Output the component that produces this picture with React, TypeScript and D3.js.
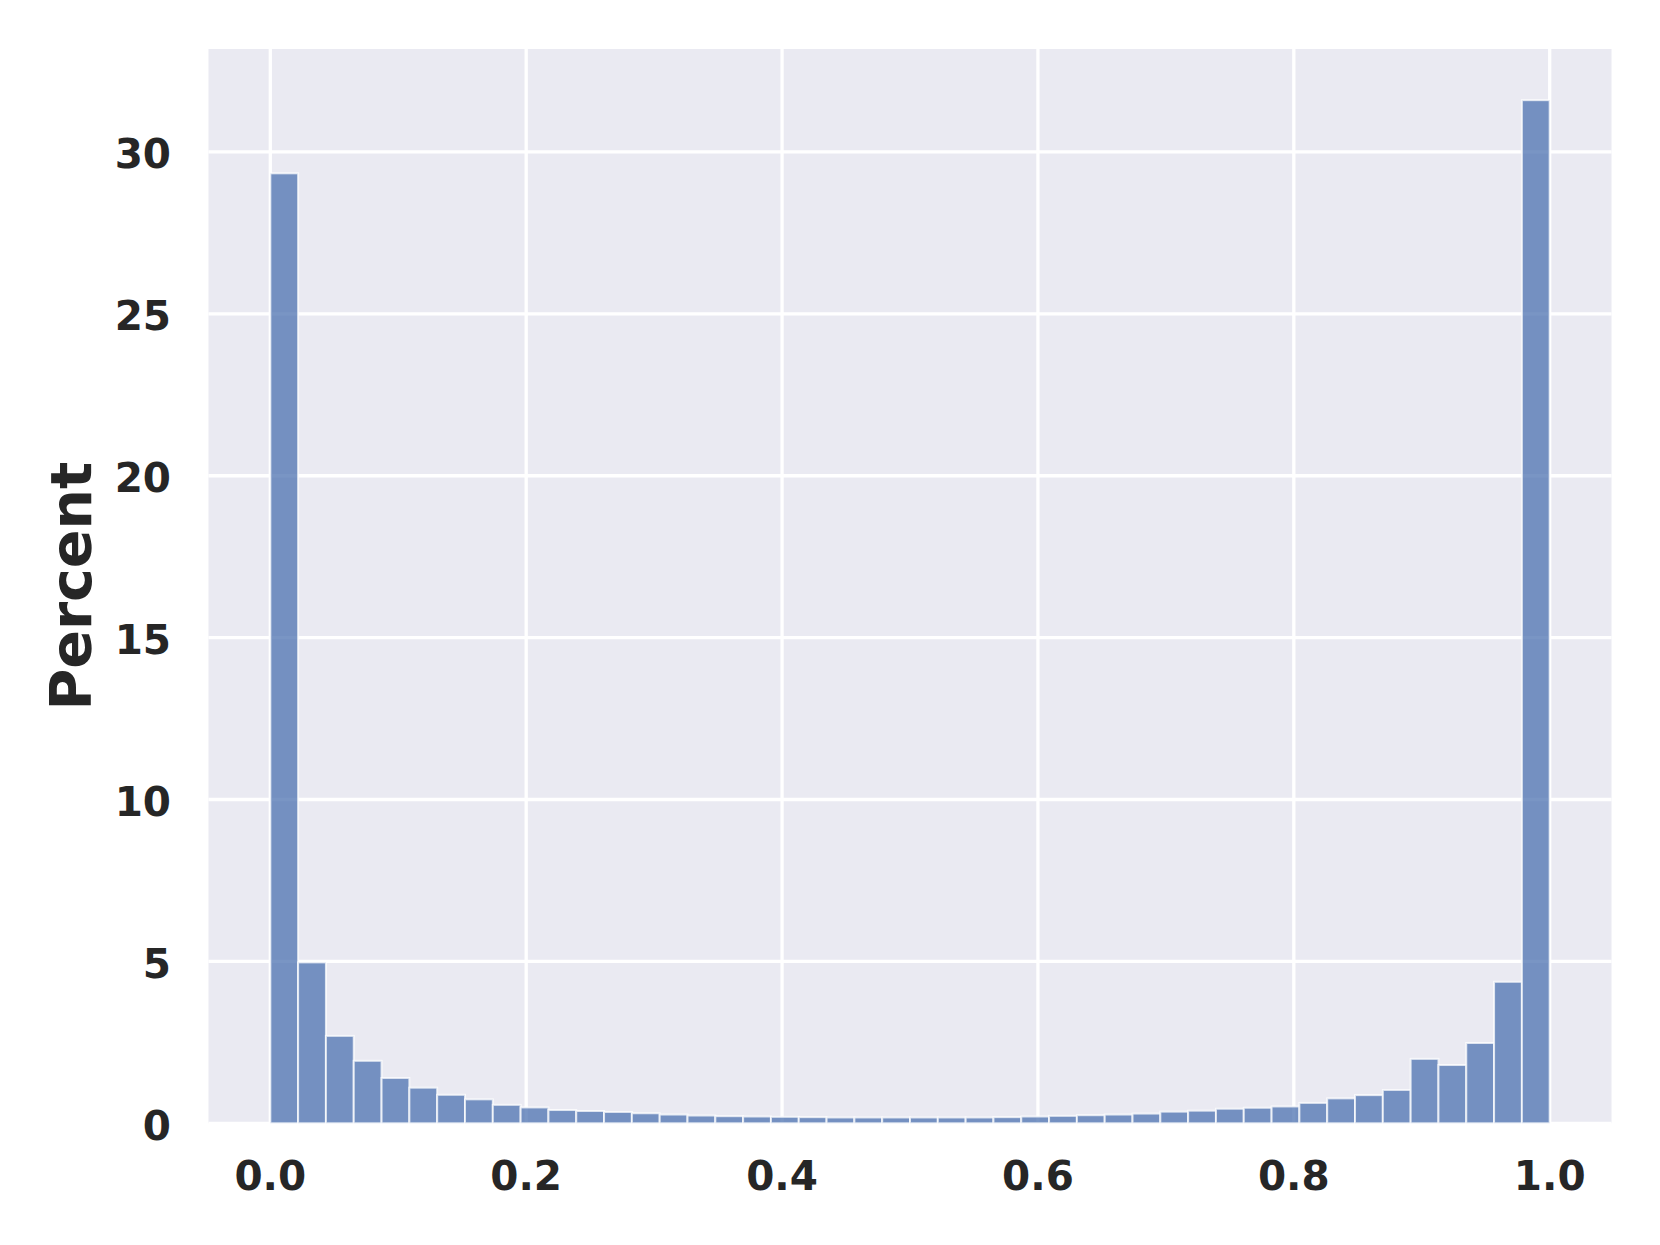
import { useEffect, useRef } from 'react';
import * as d3 from 'd3';

// histogram of 46 equal bins on [0, 1], values in percent
const binCount = 46;
const percents = [
  29.34, 4.97, 2.7, 1.93, 1.4, 1.1, 0.88, 0.74, 0.57, 0.49,
  0.41, 0.38, 0.35, 0.31, 0.27, 0.24, 0.22, 0.21, 0.2, 0.19,
  0.18, 0.18, 0.18, 0.18, 0.18, 0.18, 0.19, 0.21, 0.23, 0.25,
  0.27, 0.3, 0.36, 0.39, 0.45, 0.48, 0.52, 0.63, 0.77, 0.87,
  1.03, 1.99, 1.8, 2.48, 4.37, 31.6,
];
const xTicks = [0, 0.2, 0.4, 0.6, 0.8, 1.0];
const yTicks = [0, 5, 10, 15, 20, 25, 30];
const yLabel = 'Percent';

export default function App() {
  const svgRef = useRef<SVGSVGElement>(null);

  useEffect(() => {
    const W = 1660;
    const H = 1245;
    const plot = { left: 208.5, right: 1611.5, top: 49, bottom: 1123.3 };
    const font = '"DejaVu Sans", sans-serif';
    const ink = '#262626';

    const root = d3.select(svgRef.current);
    root.selectAll('*').remove();
    root.attr('width', W).attr('height', H);

    const x = d3.scaleLinear().domain([-0.0483, 1.0483]).range([plot.left, plot.right]);
    const yMax = d3.max(percents)! * 1.05;
    const y = d3.scaleLinear().domain([0, yMax]).range([plot.bottom, plot.top]);

    // background
    root.append('rect')
      .attr('x', plot.left)
      .attr('y', plot.top)
      .attr('width', plot.right - plot.left)
      .attr('height', plot.bottom - plot.top)
      .attr('fill', '#eaeaf2');

    // grid
    const grid = root.append('g').attr('stroke', '#ffffff').attr('stroke-width', 3.3);
    grid.selectAll('line.gx')
      .data(xTicks)
      .enter()
      .append('line')
      .attr('x1', d => x(d))
      .attr('x2', d => x(d))
      .attr('y1', plot.top)
      .attr('y2', plot.bottom);
    grid.selectAll('line.gy')
      .data(yTicks)
      .enter()
      .append('line')
      .attr('x1', plot.left)
      .attr('x2', plot.right)
      .attr('y1', d => y(d))
      .attr('y2', d => y(d));

    // bars
    const bins = percents.map((v, i) => ({ x0: i / binCount, x1: (i + 1) / binCount, v }));
    root.append('g')
      .selectAll('rect')
      .data(bins)
      .enter()
      .append('rect')
      .attr('x', d => x(d.x0))
      .attr('y', d => y(d.v))
      .attr('width', d => x(d.x1) - x(d.x0))
      .attr('height', d => y(0) - y(d.v))
      .attr('fill', '#4c72b0')
      .attr('fill-opacity', 0.75)
      .attr('stroke', '#ffffff')
      .attr('stroke-opacity', 0.75)
      .attr('stroke-width', 2);

    // x tick labels
    root.append('g')
      .selectAll('text')
      .data(xTicks)
      .enter()
      .append('text')
      .attr('x', d => x(d))
      .attr('y', 1190)
      .attr('text-anchor', 'middle')
      .style('font-family', font)
      .style('font-weight', 'bold')
      .style('font-size', '40.5px')
      .style('fill', ink)
      .text(d => d3.format('.1f')(d));

    // y tick labels
    root.append('g')
      .selectAll('text')
      .data(yTicks)
      .enter()
      .append('text')
      .attr('x', 171)
      .attr('y', d => y(d))
      .attr('dy', '0.4em')
      .attr('text-anchor', 'end')
      .style('font-family', font)
      .style('font-weight', 'bold')
      .style('font-size', '40.5px')
      .style('fill', ink)
      .text(d => String(d));

    // y axis label
    root.append('text')
      .attr('transform', `translate(90.5,${(plot.top + plot.bottom) / 2}) rotate(-90)`)
      .attr('text-anchor', 'middle')
      .style('font-family', font)
      .style('font-weight', 'bold')
      .style('font-size', '57px')
      .style('fill', ink)
      .text(yLabel);
  }, []);

  return (
    <div style={{ position: 'absolute', left: 0, top: 0, background: '#ffffff' }}>
      <svg ref={svgRef} style={{ display: 'block' }}></svg>
    </div>
  );
}
